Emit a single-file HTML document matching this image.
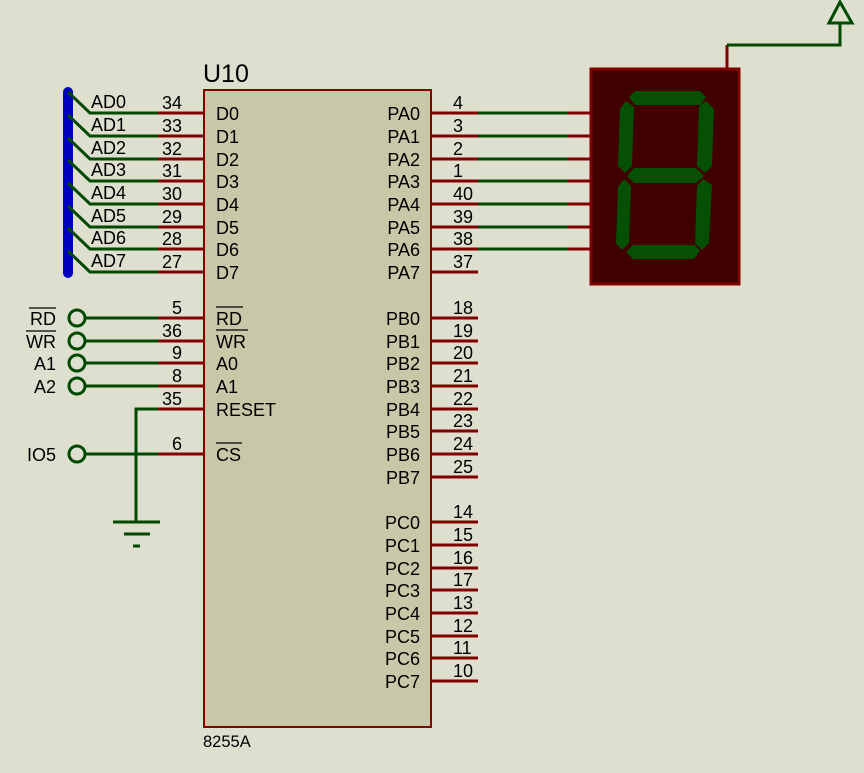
<!DOCTYPE html>
<html><head><meta charset="utf-8"><style>
html,body{margin:0;padding:0;background:#dfdfd0;}
svg{display:block;font-family:"Liberation Sans",sans-serif;}
</style></head><body>
<svg width="864" height="773" viewBox="0 0 864 773" xmlns="http://www.w3.org/2000/svg">
<rect width="864" height="773" fill="#dfdfd0"/>
<!-- chip -->
<rect x="204" y="90" width="227" height="637" fill="#c8c8a9" stroke="#800000" stroke-width="2"/>
<text x="203" y="82" font-size="25">U10</text>
<text x="203" y="747" font-size="16.5">8255A</text>
<!-- bus -->
<line x1="68" y1="92" x2="68" y2="273" stroke="#0000c0" stroke-width="10" stroke-linecap="round"/>
<g font-size="18" fill="#000">
<!-- D pins -->
<g stroke-width="3" fill="none">
<path d="M68 92 L90 113 H158" stroke="#004a00"/><path d="M158 113H204" stroke="#800000"/>
<path d="M68 115 L90 136 H158" stroke="#004a00"/><path d="M158 136H204" stroke="#800000"/>
<path d="M68 138 L90 159 H158" stroke="#004a00"/><path d="M158 159H204" stroke="#800000"/>
<path d="M68 160 L90 181 H158" stroke="#004a00"/><path d="M158 181H204" stroke="#800000"/>
<path d="M68 183 L90 204 H158" stroke="#004a00"/><path d="M158 204H204" stroke="#800000"/>
<path d="M68 206 L90 227 H158" stroke="#004a00"/><path d="M158 227H204" stroke="#800000"/>
<path d="M68 228 L90 249 H158" stroke="#004a00"/><path d="M158 249H204" stroke="#800000"/>
<path d="M68 251 L90 272 H158" stroke="#004a00"/><path d="M158 272H204" stroke="#800000"/>
</g>
<text x="91" y="108">AD0</text><text x="91" y="131">AD1</text><text x="91" y="154">AD2</text><text x="91" y="176">AD3</text>
<text x="91" y="199">AD4</text><text x="91" y="222">AD5</text><text x="91" y="244">AD6</text><text x="91" y="267">AD7</text>
<g text-anchor="end">
<text x="182" y="109">34</text><text x="182" y="132">33</text><text x="182" y="155">32</text><text x="182" y="177">31</text>
<text x="182" y="200">30</text><text x="182" y="223">29</text><text x="182" y="245">28</text><text x="182" y="268">27</text>
<text x="182" y="314">5</text><text x="182" y="337">36</text><text x="182" y="359">9</text><text x="182" y="382">8</text>
<text x="182" y="405">35</text><text x="182" y="450">6</text>
</g>
<text x="216" y="120">D0</text><text x="216" y="143">D1</text><text x="216" y="166">D2</text><text x="216" y="188">D3</text>
<text x="216" y="211">D4</text><text x="216" y="234">D5</text><text x="216" y="256">D6</text><text x="216" y="279">D7</text>
<!-- control -->
<g stroke-width="3" fill="none">
<path d="M85 318H158" stroke="#004a00"/><path d="M158 318H204" stroke="#800000"/>
<path d="M85 341H158" stroke="#004a00"/><path d="M158 341H204" stroke="#800000"/>
<path d="M85 363H158" stroke="#004a00"/><path d="M158 363H204" stroke="#800000"/>
<path d="M85 386H158" stroke="#004a00"/><path d="M158 386H204" stroke="#800000"/>
<path d="M136 521V409H158" stroke="#004a00"/><path d="M158 409H204" stroke="#800000"/>
<path d="M85 454H158" stroke="#004a00"/><path d="M158 454H204" stroke="#800000"/>
<circle cx="77" cy="318" r="8" stroke="#004a00"/><circle cx="77" cy="341" r="8" stroke="#004a00"/>
<circle cx="77" cy="363" r="8" stroke="#004a00"/><circle cx="77" cy="386" r="8" stroke="#004a00"/>
<circle cx="77" cy="454" r="8" stroke="#004a00"/>
<path d="M113 522H160M124 534H150M133 546H140" stroke="#004a00"/>
</g>
<g text-anchor="end">
<text x="56" y="325">RD</text><text x="56" y="348">WR</text><text x="56" y="370">A1</text><text x="56" y="393">A2</text><text x="56" y="461">IO5</text>
</g>
<path d="M29 308H56M26 331H56" stroke="#000" stroke-width="1.3"/>
<text x="216" y="325">RD</text><text x="216" y="348">WR</text><text x="216" y="370">A0</text><text x="216" y="393">A1</text>
<text x="216" y="416">RESET</text><text x="216" y="461">CS</text>
<path d="M216 307H243M216 330H248M216 443H242" stroke="#000" stroke-width="1.3"/>
<!-- right pins -->
<g stroke-width="3" fill="none">
<path d="M431 113H478M431 136H478M431 159H478M431 181H478M431 204H478M431 227H478M431 249H478M431 272H478" stroke="#800000"/>
<path d="M478 113H568M478 136H568M478 159H568M478 181H568M478 204H568M478 227H568M478 249H568" stroke="#004a00"/>
<path d="M568 113H590M568 136H590M568 159H590M568 181H590M568 204H590M568 227H590M568 249H590" stroke="#800000"/>
<path d="M431 318H478M431 341H478M431 363H478M431 386H478M431 409H478M431 431H478M431 454H478M431 477H478" stroke="#800000"/>
<path d="M431 522H478M431 545H478M431 568H478M431 590H478M431 613H478M431 636H478M431 658H478M431 681H478" stroke="#800000"/>
</g>
<g text-anchor="end">
<text x="420" y="120">PA0</text><text x="420" y="143">PA1</text><text x="420" y="166">PA2</text><text x="420" y="188">PA3</text>
<text x="420" y="211">PA4</text><text x="420" y="234">PA5</text><text x="420" y="256">PA6</text><text x="420" y="279">PA7</text>
<text x="420" y="325">PB0</text><text x="420" y="348">PB1</text><text x="420" y="370">PB2</text><text x="420" y="393">PB3</text>
<text x="420" y="416">PB4</text><text x="420" y="438">PB5</text><text x="420" y="461">PB6</text><text x="420" y="484">PB7</text>
<text x="420" y="529">PC0</text><text x="420" y="552">PC1</text><text x="420" y="575">PC2</text><text x="420" y="597">PC3</text>
<text x="420" y="620">PC4</text><text x="420" y="643">PC5</text><text x="420" y="665">PC6</text><text x="420" y="688">PC7</text>
</g>
<g>
<text x="453" y="109">4</text><text x="453" y="132">3</text><text x="453" y="155">2</text><text x="453" y="177">1</text>
<text x="453" y="200">40</text><text x="453" y="223">39</text><text x="453" y="245">38</text><text x="453" y="268">37</text>
<text x="453" y="314">18</text><text x="453" y="337">19</text><text x="453" y="359">20</text><text x="453" y="382">21</text>
<text x="453" y="405">22</text><text x="453" y="427">23</text><text x="453" y="450">24</text><text x="453" y="473">25</text>
<text x="453" y="518">14</text><text x="453" y="541">15</text><text x="453" y="564">16</text><text x="453" y="586">17</text>
<text x="453" y="609">13</text><text x="453" y="632">12</text><text x="453" y="654">11</text><text x="453" y="677">10</text>
</g>
</g>
<!-- 7 seg -->
<rect x="591" y="69" width="148" height="215" fill="#400000" stroke="#800000" stroke-width="3"/>
<path d="M727 68V45" stroke="#800000" stroke-width="3"/>
<path d="M727 45H840V22" stroke="#004a00" stroke-width="3" fill="none"/>
<polygon points="840,2 829,23 852,23" fill="none" stroke="#004a00" stroke-width="3"/>
<g fill="#055005">
<polygon points="629,97 635,91 700,91 706,97 700,105 635,105"/>
<polygon points="706,101 714,109 712,166 705,173 697,166 699,106"/>
<polygon points="626,101 634,107 632,166 625,173 618,166 620,109"/>
<polygon points="627,176 634,168 696,168 704,176 696,183 634,183"/>
<polygon points="624,179 631,186 629,243 622,250 616,243 618,187"/>
<polygon points="703,179 712,185 709,243 702,250 695,243 697,186"/>
<polygon points="626,252 633,245 695,245 700,251 694,259 633,259"/>
</g>
</svg>
</body></html>
